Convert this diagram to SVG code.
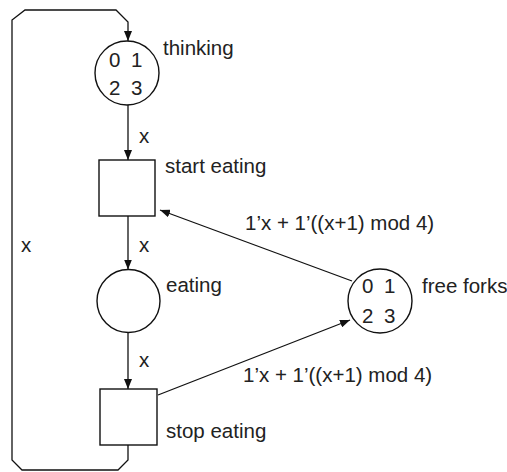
<svg xmlns="http://www.w3.org/2000/svg" width="507" height="472" viewBox="0 0 507 472">
<style>
.n{fill:#fff;stroke:#111;stroke-width:1.4}
.c{fill:none;stroke:#111;stroke-width:1.3}
text{font-family:"Liberation Sans",Arial,sans-serif;font-size:20.5px;fill:#222}
</style>
<defs>
<marker id="ah" markerUnits="userSpaceOnUse" markerWidth="10" markerHeight="8" refX="10" refY="4" orient="auto">
<path d="M0,0 L10,4 L0,8 z" fill="#111"/>
</marker>
</defs>
<rect width="507" height="472" fill="#fff"/>
<g id="connectors">
<path class="c" d="M128,445 L128,460 L118,470 L22,470 L12,460 L12,20 L25,10 L116,10 L128,22 L128,41" marker-end="url(#ah)"/>
<path class="c" d="M128,105 L128,160" marker-end="url(#ah)"/>
<path class="c" d="M128,216 L128,269.5" marker-end="url(#ah)"/>
<path class="c" d="M128,332.5 L128,389" marker-end="url(#ah)"/>
<path class="c" d="M352,281 L160,210" marker-end="url(#ah)"/>
<path class="c" d="M158,395 L350,320" marker-end="url(#ah)"/>
<text x="139" y="143">x</text>
<text x="139" y="252">x</text>
<text x="139" y="367">x</text>
<text x="21" y="252">x</text>
<text x="245" y="230">1’x + 1’((x+1) mod 4)</text>
<text x="243" y="382">1’x + 1’((x+1) mod 4)</text>
</g>
<g id="thinking">
<circle class="n" cx="127" cy="73" r="32"/>
<text x="109" y="67">0</text><text x="131" y="67">1</text>
<text x="109" y="95">2</text><text x="131" y="95">3</text>
<text x="163" y="55">thinking</text>
</g>
<g id="start-eating">
<rect class="n" x="99" y="160" width="56" height="56"/>
<text x="165" y="173">start eating</text>
</g>
<g id="eating">
<circle class="n" cx="128.5" cy="301" r="31.5"/>
<text x="166" y="292">eating</text>
</g>
<g id="stop-eating">
<rect class="n" x="100" y="389" width="57" height="56"/>
<text x="166" y="438">stop eating</text>
</g>
<g id="free-forks">
<circle class="n" cx="380" cy="301" r="32"/>
<text x="362" y="293">0</text><text x="384" y="293">1</text>
<text x="362" y="323">2</text><text x="384" y="323">3</text>
<text x="422" y="293">free forks</text>
</g>
</svg>
